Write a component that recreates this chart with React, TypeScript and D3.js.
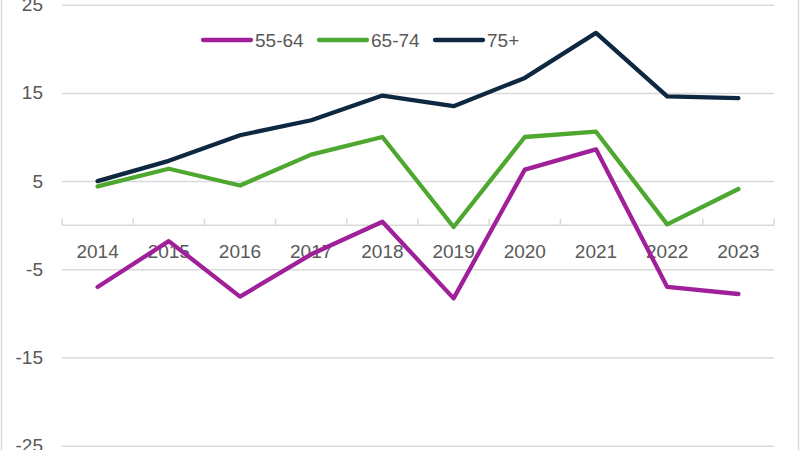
import React, { useEffect, useRef } from "react";
import * as d3 from "d3";

const years = ["2014", "2015", "2016", "2017", "2018", "2019", "2020", "2021", "2022", "2023"];
const seriesNames = ["55-64", "65-74", "75+"];
const age55to64 = [-7.0, -1.8, -8.1, -3.3, 0.4, -8.3, 6.3, 8.6, -7.0, -7.8];
const age65to74 = [4.4, 6.4, 4.5, 8.0, 10.0, -0.2, 10.0, 10.6, 0.1, 4.1];
const age75plus = [5.0, 7.3, 10.2, 11.9, 14.7, 13.5, 16.7, 21.8, 14.6, 14.4];
const yTicks = [25, 15, 5, -5, -15, -25];
const colors = ["#A0209A", "#4EA72E", "#0E2841"];

const App: React.FC = () => {
  const svgRef = useRef<SVGSVGElement | null>(null);

  useEffect(() => {
    if (!svgRef.current) return;
    const width = 800;
    const height = 450;
    const margin = { top: 4.7, right: 26, bottom: 4.3, left: 62 };
    const font = "'Liberation Sans', Arial, sans-serif";
    const fontSize = "19px";

    d3.select(svgRef.current).selectAll("*").remove();
    const svg = d3.select(svgRef.current).attr("width", width).attr("height", height);

    // chart border
    svg
      .append("rect")
      .attr("x", 1.5)
      .attr("y", -5)
      .attr("width", 797)
      .attr("height", height + 10)
      .attr("fill", "white")
      .attr("stroke", "#d9d9d9")
      .attr("stroke-width", 1.5);

    const x = d3
      .scaleBand()
      .domain(years)
      .range([margin.left, width - margin.right]);

    const y = d3
      .scaleLinear()
      .domain([-25, 25])
      .range([height - margin.bottom, margin.top]);

    // gridlines + y labels
    const yAxis = d3
      .axisLeft(y)
      .tickValues(yTicks)
      .tickSize(-(width - margin.left - margin.right))
      .tickPadding(19)
      .tickFormat((d) => `${d}`);
    const gy = svg.append("g").attr("transform", `translate(${margin.left},0)`).call(yAxis);
    gy.select(".domain").remove();
    gy.selectAll(".tick line").attr("stroke", "#d9d9d9").attr("stroke-width", 1.5);
    gy.selectAll(".tick text")
      .attr("fill", "#595959")
      .style("font-family", font)
      .style("font-size", fontSize);

    // category axis at zero
    const gx = svg.append("g").attr("transform", `translate(0,${y(0)})`);
    gx.append("line")
      .attr("x1", margin.left)
      .attr("x2", width - margin.right)
      .attr("stroke", "#d9d9d9")
      .attr("stroke-width", 1.5);
    const boundaries = [...years.map((d) => x(d)!), width - margin.right];
    gx.selectAll(".cat-tick")
      .data(boundaries)
      .enter()
      .append("line")
      .attr("x1", (d) => d)
      .attr("x2", (d) => d)
      .attr("y1", 0)
      .attr("y2", -6.5)
      .attr("stroke", "#d9d9d9")
      .attr("stroke-width", 1.5);
    gx.selectAll(".cat-label")
      .data(years)
      .enter()
      .append("text")
      .attr("x", (d) => x(d)! + x.bandwidth() / 2)
      .attr("y", 33)
      .attr("text-anchor", "middle")
      .attr("fill", "#595959")
      .style("font-family", font)
      .style("font-size", fontSize)
      .text((d) => d);

    // lines
    const allSeries = [age55to64, age65to74, age75plus];
    const line = d3
      .line<number>()
      .x((_, i) => x(years[i])! + x.bandwidth() / 2)
      .y((d) => y(d));
    allSeries.forEach((s, i) => {
      svg
        .append("path")
        .datum(s)
        .attr("d", line)
        .attr("fill", "none")
        .attr("stroke", colors[i])
        .attr("stroke-width", 4.3)
        .attr("stroke-linejoin", "round")
        .attr("stroke-linecap", "round");
    });

    // legend
    const legendX = [203, 319, 435];
    const legend = svg.append("g").attr("transform", "translate(0,40)");
    seriesNames.forEach((name, i) => {
      legend
        .append("line")
        .attr("x1", legendX[i])
        .attr("x2", legendX[i] + 48)
        .attr("stroke", colors[i])
        .attr("stroke-width", 4.3)
        .attr("stroke-linecap", "round");
      legend
        .append("text")
        .attr("x", legendX[i] + 52)
        .attr("y", 6.8)
        .attr("fill", "#595959")
        .style("font-family", font)
        .style("font-size", fontSize)
        .text(name);
    });
  }, []);

  return (
    <div style={{ position: "fixed", left: 0, top: 0, width: 800, height: 450, background: "white" }}>
      <svg ref={svgRef}></svg>
    </div>
  );
};

export default App;
